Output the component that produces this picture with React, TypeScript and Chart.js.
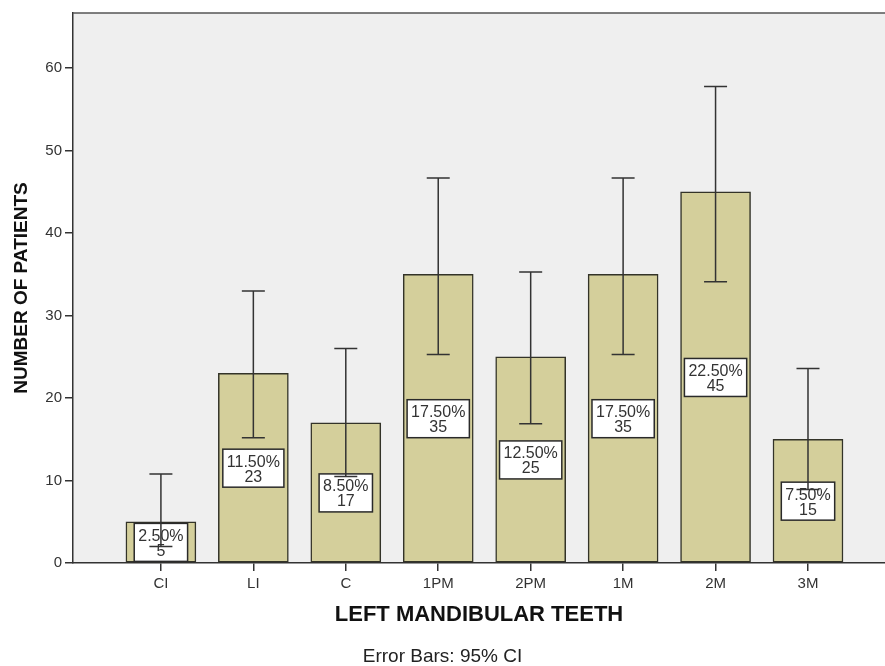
import React, { useEffect, useRef } from 'react';
import { Chart, registerables } from 'chart.js';

Chart.register(...registerables);

const categories = ['CI', 'LI', 'C', '1PM', '2PM', '1M', '2M', '3M'];
const counts = [5, 23, 17, 35, 25, 35, 45, 15];
const percents = ['2.50%', '11.50%', '8.50%', '17.50%', '12.50%', '17.50%', '22.50%', '7.50%'];
const ciLower = [2.0, 15.2, 10.5, 25.3, 16.9, 25.3, 34.1, 8.9];
const ciUpper = [10.8, 33.0, 26.0, 46.7, 35.3, 46.7, 57.8, 23.6];
const yTicks = [0, 10, 20, 30, 40, 50, 60];

const FONT = 'Arial, "Liberation Sans", Helvetica, sans-serif';

const bgPlugin = {
  id: 'bgPlugin',
  beforeDraw(chart: any) {
    const { ctx, chartArea: a } = chart;
    ctx.save();
    ctx.fillStyle = '#efefef';
    ctx.fillRect(a.left, a.top, a.right - a.left, a.bottom - a.top);
    ctx.restore();
  },
  afterDraw(chart: any) {
    const { ctx, chartArea: a } = chart;
    ctx.save();
    ctx.strokeStyle = '#555';
    ctx.lineWidth = 1.5;
    ctx.beginPath();
    ctx.moveTo(a.left, a.top);
    ctx.lineTo(a.right, a.top);
    ctx.stroke();
    ctx.restore();
  },
};

const annotPlugin = {
  id: 'annotPlugin',
  afterDatasetsDraw(chart: any) {
    const { ctx, chartArea: a, scales } = chart;
    const xs = scales.x;
    const ys = scales.y;
    ctx.save();
    ctx.beginPath();
    ctx.rect(a.left, a.top, a.right - a.left, a.bottom - a.top);
    ctx.clip();
    // value labels
    ctx.font = `16px ${FONT}`;
    ctx.textAlign = 'center';
    ctx.textBaseline = 'middle';
    categories.forEach((_, i) => {
      const cx = xs.getPixelForValue(i);
      const cy = ys.getPixelForValue(counts[i] / 2);
      const t1 = percents[i];
      const t2 = String(counts[i]);
      const w = Math.max(ctx.measureText(t1).width, ctx.measureText(t2).width) + 8;
      const h = 38;
      ctx.fillStyle = '#ffffff';
      ctx.fillRect(cx - w / 2, cy - h / 2, w, h);
      ctx.strokeStyle = '#2a2a2a';
      ctx.lineWidth = 1.5;
      ctx.strokeRect(cx - w / 2, cy - h / 2, w, h);
      ctx.fillStyle = '#333';
      ctx.fillText(t1, cx, cy - 6);
      ctx.fillText(t2, cx, cy + 9);
    });
    // error bars
    ctx.strokeStyle = '#333';
    ctx.lineWidth = 1.5;
    categories.forEach((_, i) => {
      const cx = xs.getPixelForValue(i);
      const yl = ys.getPixelForValue(ciLower[i]);
      const yu = ys.getPixelForValue(ciUpper[i]);
      ctx.beginPath();
      ctx.moveTo(cx, yl);
      ctx.lineTo(cx, yu);
      ctx.moveTo(cx - 11.5, yu);
      ctx.lineTo(cx + 11.5, yu);
      ctx.moveTo(cx - 11.5, yl);
      ctx.lineTo(cx + 11.5, yl);
      ctx.stroke();
    });
    ctx.restore();
  },
};

export default function App() {
  const ref = useRef<HTMLCanvasElement | null>(null);
  useEffect(() => {
    if (!ref.current) return;
    const chart = new Chart(ref.current, {
      type: 'bar',
      data: {
        datasets: [
          {
            label: 'Number of patients',
            data: categories.map((_, i) => ({ x: i, y: counts[i] })),
            backgroundColor: '#d4cf9b',
            borderColor: '#333328',
            borderWidth: 1.5,
            borderSkipped: false,
            barThickness: 70,
          },
        ],
      },
      options: {
        responsive: false,
        animation: false,
        layout: { padding: { top: 13, right: 0, left: 0, bottom: 0 } },
        plugins: {
          legend: { display: false },
          tooltip: { enabled: false },
          title: {
            display: true,
            position: 'bottom',
            text: 'Error Bars: 95% CI',
            color: '#222',
            font: { family: FONT, size: 19, weight: 'normal', lineHeight: 1 },
            padding: 0,
          },
        },
        scales: {
          x: {
            type: 'linear',
            offset: false,
            min: -0.951,
            max: 7.833,
            afterBuildTicks: (s: any) => {
              s.ticks = categories.map((_, i) => ({ value: i }));
            },
            afterFit: (s: any) => {
              s.height = 84;
            },
            ticks: {
              autoSkip: false,
              maxRotation: 0,
              padding: 4,
              color: '#333',
              font: { family: FONT, size: 15 },
              callback: (v: any) => categories[v] ?? '',
            },
            grid: { offset: false, drawOnChartArea: false, drawTicks: true, tickLength: 8, color: '#333', lineWidth: 1.5 },
            border: { display: true, color: '#333', width: 1.5 },
            title: {
              display: true,
              text: 'LEFT MANDIBULAR TEETH',
              color: '#111',
              font: { family: FONT, size: 22, weight: 'bold' },
              padding: { top: 0, bottom: 19 },
            },
          },
          y: {
            type: 'linear',
            min: 0,
            max: 66.7,
            afterBuildTicks: (s: any) => {
              s.ticks = yTicks.map((v) => ({ value: v }));
            },
            afterFit: (s: any) => {
              s.width = 73;
            },
            ticks: {
              padding: 3,
              color: '#333',
              font: { family: FONT, size: 15 },
              callback: (v: any) => String(v),
            },
            grid: { drawOnChartArea: false, drawTicks: true, tickLength: 8, color: '#333', lineWidth: 1.5 },
            border: { display: true, color: '#333', width: 1.5 },
            title: {
              display: true,
              text: 'NUMBER OF PATIENTS',
              color: '#111',
              font: { family: FONT, size: 19, weight: 'bold' },
              padding: { top: 10, bottom: 0 },
            },
          },
        },
      },
      plugins: [bgPlugin, annotPlugin],
    } as any);
    return () => chart.destroy();
  }, []);
  return (
    <div style={{ position: 'absolute', left: 0, top: 0, width: 885, height: 666, background: '#fff' }}>
      <canvas ref={ref} width={885} height={666} />
    </div>
  );
}
